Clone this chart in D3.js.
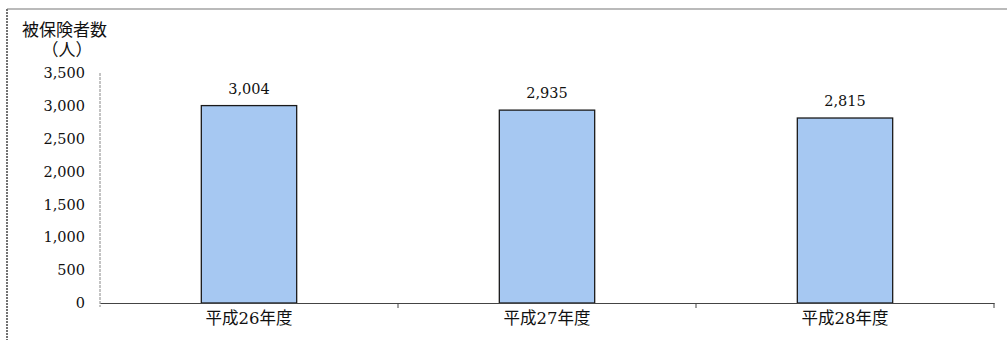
<!DOCTYPE html>
<html>
<head>
<meta charset="utf-8">
<script src="https://cdn.jsdelivr.net/npm/d3@7/dist/d3.min.js"></script>
<style>
  html, body { margin: 0; padding: 0; background: #fff; }
  svg { display: block; }
  text { font-family: "DejaVu Serif", "Noto Sans CJK JP", serif; fill: #111; }
</style>
</head>
<body>
<svg id="chart" width="1007" height="340"></svg>
<script>
// Insured persons per fiscal year
const categories = ["平成26年度", "平成27年度", "平成28年度"];
const values = [3004, 2935, 2815];
const yTicks = [0, 500, 1000, 1500, 2000, 2500, 3000, 3500];
const yTitle = ["被保険者数", "（人）"];

const svg = d3.select("#chart");
const W = 1007, H = 340;
const plot = { left: 100, right: 994, top: 73, bottom: 303 };

// outer frame (left and top edges)
svg.append("line").attr("x1", 7).attr("x2", 7).attr("y1", 9).attr("y2", H)
  .attr("stroke", "#444").attr("stroke-width", 1.5).attr("stroke-dasharray", "2,1");
svg.append("line").attr("x1", 7).attr("x2", W).attr("y1", 9).attr("y2", 9)
  .attr("stroke", "#777").attr("stroke-width", 1.2);

const x = d3.scaleBand().domain(categories)
  .range([plot.left, plot.right]).paddingInner(0.68).paddingOuter(0.34);
const y = d3.scaleLinear().domain([0, 3500]).range([plot.bottom, plot.top]);

// y axis: line and labels, no tick marks
svg.append("line").attr("x1", plot.left).attr("x2", plot.left)
  .attr("y1", plot.top).attr("y2", plot.bottom + 4)
  .attr("stroke", "#888").attr("stroke-width", 1).attr("stroke-dasharray", "3,1");
svg.append("g").selectAll("text").data(yTicks).join("text")
  .attr("x", 85).attr("y", d => y(d)).attr("dy", "0.35em")
  .attr("text-anchor", "end").attr("font-size", 14.5)
  .text(d => d3.format(",")(d));

// axis title
svg.append("text").attr("x", 22).attr("y", 30).attr("dy", "0.35em")
  .attr("font-size", 17).attr("font-family", "Noto Sans CJK JP").text(yTitle[0]);
svg.append("text").attr("x", 67).attr("y", 50).attr("dy", "0.35em")
  .attr("text-anchor", "middle")
  .attr("font-size", 17).attr("font-family", "Noto Sans CJK JP").text(yTitle[1]);

// bars
svg.append("g").selectAll("rect").data(values).join("rect")
  .attr("x", (d, i) => x(categories[i]))
  .attr("y", d => y(d))
  .attr("width", x.bandwidth())
  .attr("height", d => y(0) - y(d))
  .attr("fill", "#a6c8f2").attr("stroke", "#1a1a1a").attr("stroke-width", 1.3);

// value labels
svg.append("g").selectAll("text").data(values).join("text")
  .attr("x", (d, i) => x(categories[i]) + x.bandwidth() / 2)
  .attr("y", d => y(d) - 17).attr("dy", "0.35em")
  .attr("text-anchor", "middle").attr("font-size", 14.5)
  .text(d => d3.format(",")(d));

// x axis: baseline with ticks at band boundaries
const xAxis = d3.axisBottom(x).tickSize(0).tickFormat(d => d);
const gx = svg.append("g").attr("transform", `translate(0,${plot.bottom})`).call(xAxis);
gx.select(".domain").attr("stroke", "#444").attr("stroke-width", 1.2);
gx.selectAll("text").attr("dy", "0").attr("y", 21).attr("font-size", 16.5)
  .attr("fill", "#111");
const step = x.step();
const bounds = d3.range(1, categories.length + 1).map(i => plot.left + step * i);
svg.append("g").selectAll("line").data(bounds).join("line")
  .attr("x1", d => d).attr("x2", d => d)
  .attr("y1", plot.bottom).attr("y2", plot.bottom + 5)
  .attr("stroke", "#444").attr("stroke-width", 1);
</script>
</body>
</html>
